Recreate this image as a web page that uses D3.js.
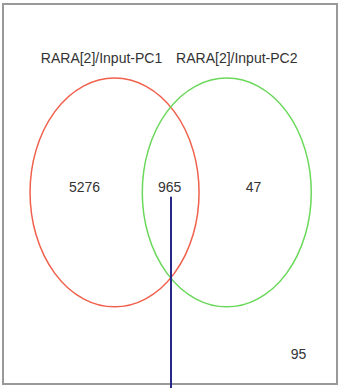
<!DOCTYPE html>
<html>
<head>
<meta charset="utf-8">
<script src="https://cdn.jsdelivr.net/npm/d3@7"></script>
<style>
  body { margin: 0; background: #fff; }
  svg { display: block; font-family: "Liberation Sans", Arial, sans-serif; }
</style>
</head>
<body>
<svg id="venn"></svg>
<script>
const setNames = ["RARA[2]/Input-PC1", "RARA[2]/Input-PC2"];
const setColors = ["#f0604c", "#6ad85a"];
const regionNames = ["only1", "both", "only2", "neither"];
const regionCounts = [5276, 965, 47, 95];

const width = 340, height = 388;

const svg = d3.select('#venn')
  .attr('width', width)
  .attr('height', height);

// layout space: 0..100 across the frame
const x = d3.scaleLinear().domain([0, 100]).range([3, 337]);
const y = d3.scaleLinear().domain([0, 100]).range([4, 384]);

svg.append('rect')
  .attr('x', x(0)).attr('y', y(0))
  .attr('width', x(100) - x(0)).attr('height', y(100) - y(0))
  .attr('fill', 'none')
  .attr('stroke', '#999')
  .attr('stroke-width', 2);

const cx = [33.4, 67];
const rx = 25.3, ry = 30.1, cy = 49.6;

svg.selectAll('ellipse.set')
  .data(setNames)
  .join('ellipse')
  .attr('class', 'set')
  .attr('cx', (d, i) => x(cx[i]))
  .attr('cy', y(cy))
  .attr('rx', x(rx) - x(0))
  .attr('ry', y(ry) - y(0))
  .attr('fill', 'none')
  .attr('stroke', (d, i) => setColors[i])
  .attr('stroke-width', 1.5);

svg.selectAll('text.setname')
  .data(setNames)
  .join('text')
  .attr('class', 'setname')
  .attr('x', (d, i) => x([29.5, 70][i]))
  .attr('y', y(15.5))
  .attr('text-anchor', 'middle')
  .attr('font-size', 14)
  .attr('fill', '#333')
  .text(d => d);

const labelPos = [[24.4, 49.4], [49.9, 49.4], [75, 49.4], [88.5, 93.4]];
svg.selectAll('text.count')
  .data(regionCounts)
  .join('text')
  .attr('class', 'count')
  .attr('x', (d, i) => x(labelPos[i][0]))
  .attr('y', (d, i) => y(labelPos[i][1]))
  .attr('text-anchor', 'middle')
  .attr('font-size', 14)
  .attr('fill', '#333')
  .text(d => d);

// pointer line from the overlap count
svg.append('line')
  .attr('x1', x(50.3)).attr('x2', x(50.3))
  .attr('y1', y(50.7)).attr('y2', height)
  .attr('stroke', '#28288a')
  .attr('stroke-width', 2);
</script>
</body>
</html>
